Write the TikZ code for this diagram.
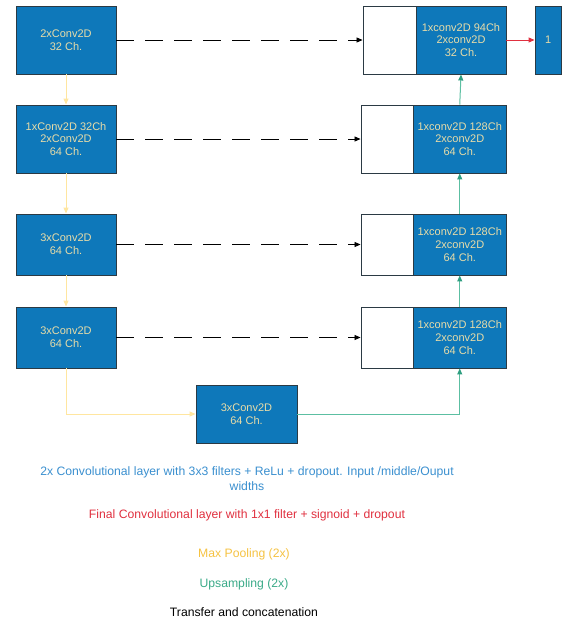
\documentclass[tikz,border=0pt]{standalone}
\usepackage{fontspec}
\setmainfont{Liberation Sans}
\usetikzlibrary{arrows.meta}
\definecolor{boxblue}{HTML}{0E78BA}
\definecolor{boxtext}{HTML}{E8DCA8}
\definecolor{boxline}{HTML}{2B3A44}
\definecolor{poolyel}{HTML}{FFE6A0}
\definecolor{upgreen}{HTML}{5CBFA2}
\definecolor{upgreenhead}{HTML}{2E9E80}
\definecolor{finred}{HTML}{E0303F}
\definecolor{legblue}{HTML}{3A8FCF}
\definecolor{legyel}{HTML}{F5C242}
\definecolor{leggreen}{HTML}{3AAA88}
\tikzset{
  convbox/.style={draw=boxline, line width=0.9pt, fill=boxblue, text=boxtext,
    align=center, font=\fontsize{11}{12.9}\selectfont, inner sep=0pt},
  catbox/.style={draw=boxline, line width=0.9pt, fill=white, inner sep=0pt},
  xfer/.style={draw=black, line width=0.8pt, dash pattern=on 18pt off 11pt,
    -{Triangle[length=6pt,width=5pt]}},
  pool/.style={draw=poolyel, line width=1pt, -{Triangle[length=6pt,width=5pt]}},
  upsamp/.style={draw=upgreen, line width=1pt, -{Triangle[length=6pt,width=5pt,color=upgreenhead]}},
  finarrow/.style={draw=finred, line width=0.9pt, -{Triangle[length=6pt,width=5pt]}},
  legend/.style={font=\fontsize{12.2}{14.7}\selectfont, align=center, inner sep=0pt}
}
\begin{document}
\begin{tikzpicture}[x=1pt,y=-1pt]
\useasboundingbox (0,0) rectangle (562,622);
% encoder
\node[convbox, minimum width=100pt, minimum height=68pt] (e1) at (66,40) {2xConv2D\\32 Ch.};
\node[convbox, minimum width=100pt, minimum height=68pt] (e2) at (66,139) {1xConv2D 32Ch\\2xConv2D\\64 Ch.};
\node[convbox, minimum width=100pt, minimum height=61pt] (e3) at (66,244.5) {3xConv2D\\64 Ch.};
\node[convbox, minimum width=100pt, minimum height=61pt] (e4) at (66,337.5) {3xConv2D\\64 Ch.};
\node[convbox, minimum width=101pt, minimum height=58pt] (bt) at (246.5,414) {3xConv2D\\64 Ch.};
% decoder
\node[catbox, minimum width=53pt, minimum height=68pt] (c1) at (389.5,40) {};
\node[convbox, minimum width=90pt, minimum height=68pt] (d1) at (461,40) {1xconv2D 94Ch\\2xconv2D\\32 Ch.};
\node[catbox, minimum width=52.5pt, minimum height=68pt] (c2) at (387.25,139) {};
\node[convbox, minimum width=92.5pt, minimum height=68pt] (d2) at (459.75,139) {1xconv2D 128Ch\\2xconv2D\\64 Ch.};
\node[catbox, minimum width=52.5pt, minimum height=61pt] (c3) at (387.25,244.5) {};
\node[convbox, minimum width=92.5pt, minimum height=61pt] (d3) at (459.75,244.5) {1xconv2D 128Ch\\2xconv2D\\64 Ch.};
\node[catbox, minimum width=52.5pt, minimum height=61pt] (c4) at (387.25,337.5) {};
\node[convbox, minimum width=92.5pt, minimum height=61pt] (d4) at (459.75,337.5) {1xconv2D 128Ch\\2xconv2D\\64 Ch.};
\node[convbox, minimum width=26.5pt, minimum height=68pt] (out) at (548.25,40) {1};
% transfer
\draw[xfer] (e1.east) -- (c1.west);
\draw[xfer] (e2.east) -- (c2.west);
\draw[xfer] (e3.east) -- (c3.west);
\draw[xfer] (e4.east) -- (c4.west);
% pooling
\draw[pool] (e1.south) -- (e2.north);
\draw[pool] (e2.south) -- (e3.north);
\draw[pool] (e3.south) -- (e4.north);
\draw[pool] (e4.south) |- (bt.west);
% upsampling
\draw[upsamp] (bt.east) -| (d4.south);
\draw[upsamp] (d4.north) -- (d3.south);
\draw[upsamp] (d3.north) -- (d2.south);
\draw[upsamp] (d2.north) -- (d1.south);
% final
\draw[finarrow] (d1.east) -- (out.west);
% legend
\node[legend, text=legblue, anchor=base] (l1) at (247,490) {2x Convolutional layer with 3x3 filters + ReLu + dropout. Input /middle/Ouput\\widths};
\node[legend, text=finred, anchor=base] (l2) at (247,518.6) {Final Convolutional layer with 1x1 filter + signoid + dropout};
\node[legend, text=legyel, anchor=base] (l3) at (244,557.6) {Max Pooling (2x)};
\node[legend, text=leggreen, anchor=base] (l4) at (244,587) {Upsampling (2x)};
\node[legend, text=black, anchor=base] (l5) at (244,616) {Transfer and concatenation};
\end{tikzpicture}
\end{document}
